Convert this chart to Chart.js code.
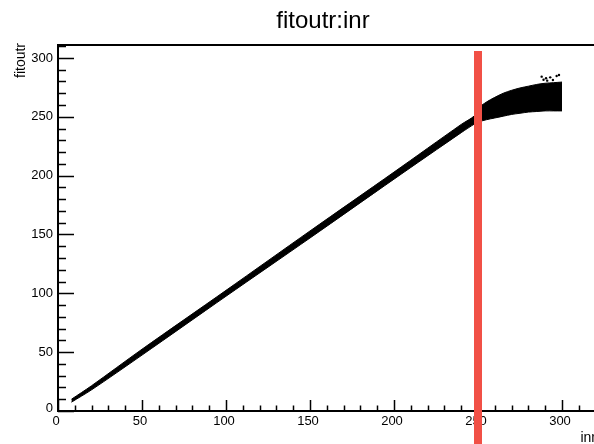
<!DOCTYPE html>
<html>
<head>
<meta charset="utf-8">
<script src="https://cdn.jsdelivr.net/npm/chart.js@4/dist/chart.umd.min.js"></script>
<style>
  html, body { margin: 0; padding: 0; background: #fff; overflow: hidden; width: 594px; height: 444px; }
  #wrap { position: absolute; left: 0; top: 0; width: 600px; height: 444px; }
</style>
</head>
<body>
<div id="wrap"><canvas id="c" width="600" height="444"></canvas></div>
<script>
// ---- data ----
const chartTitle = 'fitoutr:inr';
const xTitle = 'inr';
const yTitle = 'fitoutr';
const xTickLabels = [0, 50, 100, 150, 200, 250, 300];
const yTickLabels = [0, 50, 100, 150, 200, 250, 300];
const xMin = 0, xMax = 320, yMin = 0, yMax = 311;

// scatter band (fitoutr vs inr): lower and upper edge of the dense point cloud
const bandX    = [8,   20,  50,   100,  150, 200, 240,   248, 250, 255,   260, 265,   270, 275, 280,   285,   290,   295, 300];
const bandLow  = [7.5, 18,  47.5, 97.5, 147, 197, 236.5, 244, 245.5, 247.5, 249, 250.5, 252, 253, 254, 254.5, 255,   255, 255];
const bandHigh = [10,  21.5,52.5, 102.5,153, 203, 243.5, 251, 257, 262.5, 266.5, 270, 272.5, 274.5, 276, 277.5, 278.5, 279, 279.5];

// isolated points above the cloud at the right end
const outX = [287.9, 290.5, 291.2, 294.6, 296.8, 298.2, 289.0, 293.0];
const outY = [284.1, 282.7, 280.7, 281.3, 284.7, 285.5, 281.5, 283.5];

// red vertical cut marker
const cutX = 250;
const cutTop = 306, cutBottom = -30;

const FONT = "'Liberation Sans', Arial, Helvetica, sans-serif";

const toXY = (xs, ys) => xs.map((v, i) => ({ x: v, y: ys[i] }));

const rootAxes = {
  id: 'rootAxes',
  beforeDatasetsDraw(chart) {
    const { ctx, chartArea: a, scales: { x, y } } = chart;
    ctx.save();
    // frame
    ctx.strokeStyle = '#000';
    ctx.lineWidth = 2;
    ctx.strokeRect(a.left, a.top, a.right - a.left, a.bottom - a.top);
    // ticks (inward)
    ctx.lineWidth = 1.5;
    ctx.beginPath();
    for (let v = xMin; v <= xMax; v += 10) {
      const px = Math.round(x.getPixelForValue(v)) + 0.5;
      const len = v % 50 === 0 ? 11 : 5.5;
      ctx.moveTo(px, a.bottom);
      ctx.lineTo(px, a.bottom - len);
    }
    for (let v = yMin; v <= yMax; v += 10) {
      const py = Math.round(y.getPixelForValue(v)) + 0.5;
      const len = v % 50 === 0 ? 16 : 8;
      ctx.moveTo(a.left, py);
      ctx.lineTo(a.left + len, py);
    }
    ctx.stroke();
    // tick labels
    ctx.fillStyle = '#000';
    ctx.font = '13px ' + FONT;
    ctx.textAlign = 'center';
    ctx.textBaseline = 'middle';
    xTickLabels.forEach(v => {
      ctx.fillText(String(v), x.getPixelForValue(v) - 2, a.bottom + 10);
    });
    ctx.textAlign = 'right';
    yTickLabels.forEach(v => {
      ctx.fillText(String(v), a.left - 5, y.getPixelForValue(v) - (v === 0 ? 3 : 0));
    });
    // axis titles
    ctx.font = '14px ' + FONT;
    ctx.textAlign = 'right';
    ctx.textBaseline = 'alphabetic';
    ctx.fillText(xTitle, 596, 442);
    ctx.save();
    ctx.translate(25, 43);
    ctx.rotate(-Math.PI / 2);
    ctx.textAlign = 'right';
    ctx.textBaseline = 'alphabetic';
    ctx.fillText(yTitle, 0, 0);
    ctx.restore();
    // main title
    ctx.font = '24px ' + FONT;
    ctx.textAlign = 'center';
    ctx.textBaseline = 'alphabetic';
    ctx.fillText(chartTitle, 323, 28);
    ctx.restore();
  }
};

new Chart(document.getElementById('c'), {
  type: 'line',
  data: {
    datasets: [
      {
        label: 'cut',
        data: [{ x: cutX, y: cutTop }, { x: cutX, y: cutBottom }],
        borderColor: 'rgb(241,80,70)',
        borderWidth: 8,
        borderCapStyle: 'butt',
        pointRadius: 0,
        fill: false,
        clip: false,
        order: -1
      },
      {
        label: 'low',
        data: toXY(bandX, bandLow),
        borderColor: '#000',
        borderWidth: 1,
        pointRadius: 0,
        fill: false,
        tension: 0.3,
        order: 2
      },
      {
        label: 'high',
        data: toXY(bandX, bandHigh),
        borderColor: '#000',
        backgroundColor: '#000',
        borderWidth: 1,
        pointRadius: 0,
        fill: '-1',
        tension: 0.3,
        order: 2
      },
      {
        label: 'outliers',
        data: toXY(outX, outY),
        showLine: false,
        pointRadius: 1.2,
        pointBackgroundColor: '#000',
        pointBorderWidth: 0,
        order: 1
      }
    ]
  },
  options: {
    responsive: false,
    animation: false,
    devicePixelRatio: 1,
    layout: { padding: { left: 58, top: 45, right: 600 - 595.6, bottom: 444 - 411 } },
    plugins: { legend: { display: false }, tooltip: { enabled: false }, title: { display: false } },
    scales: {
      x: { type: 'linear', min: xMin, max: xMax, display: false },
      y: { type: 'linear', min: yMin, max: yMax, display: false }
    }
  },
  plugins: [rootAxes]
});
</script>
</body>
</html>
